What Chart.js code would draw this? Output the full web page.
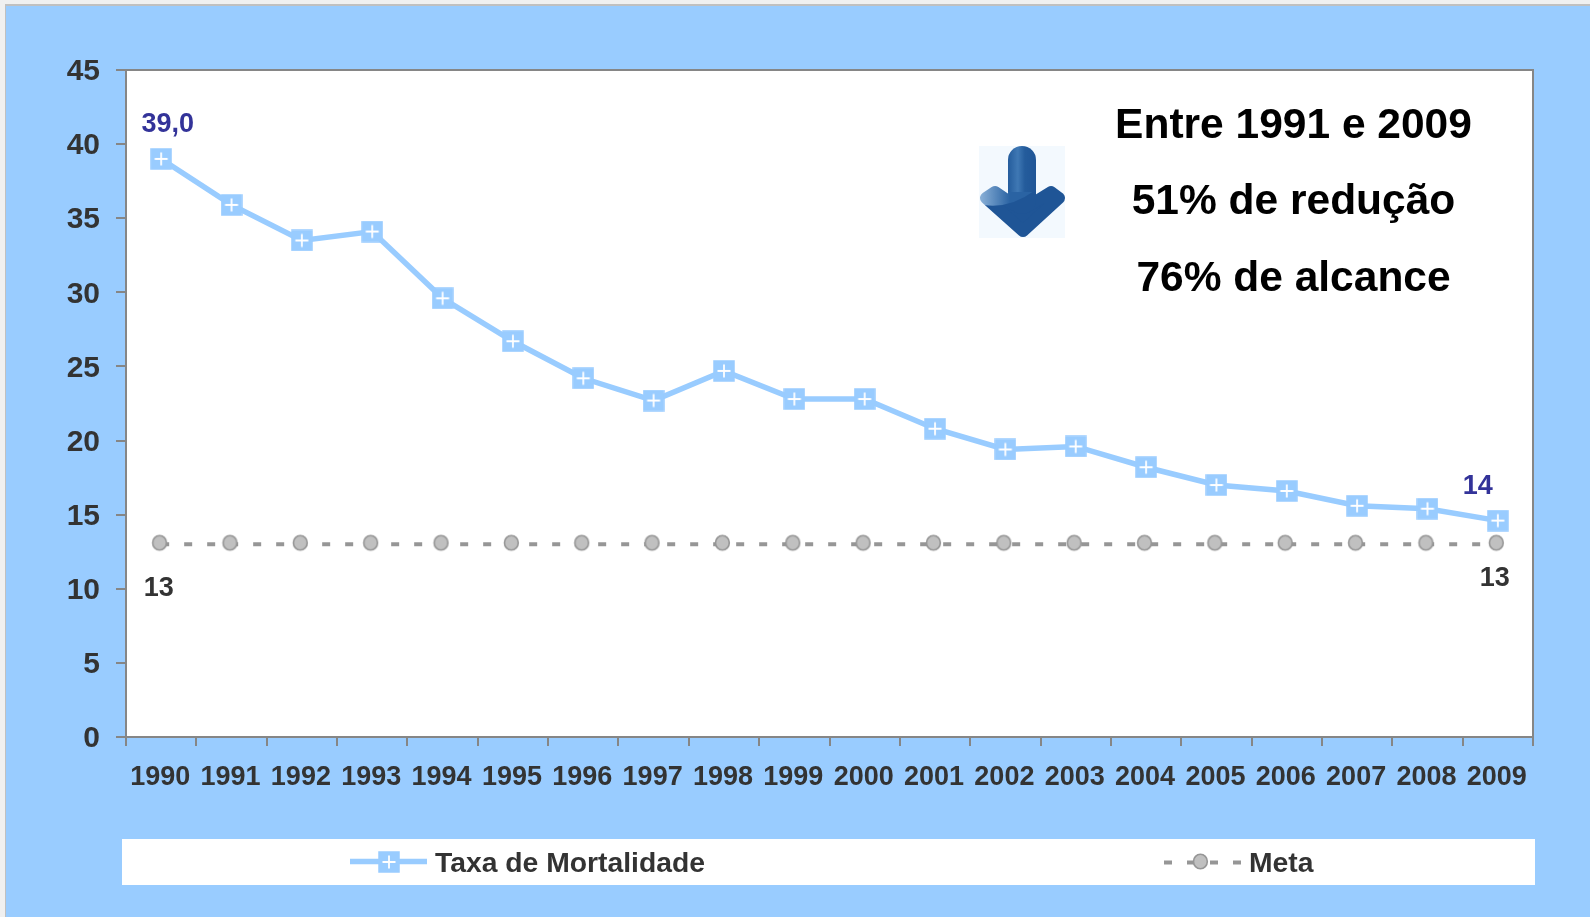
<!DOCTYPE html>
<html>
<head>
<meta charset="utf-8">
<style>html,body{margin:0;padding:0;background:#f0f0f0}canvas{display:block}</style>
<script src="https://cdn.jsdelivr.net/npm/chart.js@4/dist/chart.umd.min.js"></script>
</head>
<body>
<canvas id="c" width="1590" height="917"></canvas>
<script>
const years = ['1990','1991','1992','1993','1994','1995','1996','1997','1998','1999','2000','2001','2002','2003','2004','2005','2006','2007','2008','2009'];
const taxaMortalidade = [39.0,35.9,33.5,34.1,29.6,26.7,24.2,22.7,24.7,22.8,22.8,20.8,19.4,19.6,18.2,17.0,16.6,15.6,15.4,14.6];
const meta = [13,13,13,13,13,13,13,13,13,13,13,13,13,13,13,13,13,13,13,13];
const taxaFirstLabel = '39,0';
const taxaLastLabel = '14';
const metaLabel = '13';
const annotationLines = ['Entre 1991 e 2009','51% de redução','76% de alcance'];

const FONT = '"Liberation Sans", Arial, sans-serif';

function squareMarker(){
  const c=document.createElement('canvas');c.width=22;c.height=22;
  const x=c.getContext('2d');
  x.fillStyle='#99CCFF';x.fillRect(0.25,0.25,21.5,21.5);
  x.strokeStyle='#fff';x.lineWidth=1.8;
  x.beginPath();x.moveTo(4.5,11);x.lineTo(17.5,11);x.moveTo(11,4.5);x.lineTo(11,17.5);x.stroke();
  return c;
}
function circleMarker(){
  const c=document.createElement('canvas');c.width=24;c.height=24;
  const x=c.getContext('2d');
  x.fillStyle='#C0C0C0';x.strokeStyle='#969696';x.lineWidth=1.6;
  x.beginPath();x.ellipse(10.4,10.5,6.9,7.2,0,0,Math.PI*2);x.fill();x.stroke();
  return c;
}
const sq=squareMarker(), ci=circleMarker();

function arrowImage(){
  const c=document.createElement('canvas');c.width=86;c.height=92;
  const x=c.getContext('2d');
  x.fillStyle='#F3F9FE';x.fillRect(0,0,86,92);
  const o=document.createElement('canvas');o.width=86;o.height=92;
  const g=o.getContext('2d');
  g.translate(-979,-146);
  g.fillStyle=g.strokeStyle='#1F5596';
  g.lineJoin='round';g.lineCap='round';
  g.lineWidth=12;
  g.beginPath();
  g.moveTo(1014,205);g.lineTo(995,192);g.lineTo(986,198);g.lineTo(1023,231);
  g.lineTo(1059,198);g.lineTo(1051,192);g.lineTo(1030,205);g.closePath();
  g.fill();g.stroke();
  g.lineWidth=28;
  g.beginPath();g.moveTo(1022,160);g.lineTo(1022,200);g.stroke();
  g.globalCompositeOperation='source-atop';
  const lg=g.createLinearGradient(979,0,1010,0);
  lg.addColorStop(0,'#8DB3D9');lg.addColorStop(1,'#2A63A3');
  g.fillStyle=lg;
  g.beginPath();g.moveTo(975,203);g.quadraticCurveTo(1005,212,1034,191);g.lineTo(1040,140);g.lineTo(975,140);g.closePath();g.fill();
  const bg=g.createLinearGradient(1008,0,1036,0);
  bg.addColorStop(0,'#245C9C');bg.addColorStop(0.35,'#3F78B4');bg.addColorStop(0.6,'#245C9C');bg.addColorStop(1,'#1F5596');
  g.fillStyle=bg;g.fillRect(1008,146,28,46);
  x.drawImage(o,0,0);
  return c;
}
const arrow=arrowImage();

const decorPlugin={
  id:'decor',
  beforeDraw(chart){
    const {ctx,chartArea:a,width,height}=chart;
    ctx.save();
    ctx.fillStyle='#F0F0F0';ctx.fillRect(0,0,width,height);
    ctx.fillStyle='#C0C0C0';ctx.fillRect(5,4,width-5,height-4);
    ctx.fillStyle='#99CCFF';ctx.fillRect(6,6,width-6,height-6);
    ctx.fillStyle='#fff';ctx.fillRect(a.left,a.top,a.right-a.left,a.bottom-a.top);
    ctx.fillRect(122,839,1413,46);
    ctx.restore();
  },
  afterDatasetsDraw(chart){
    const {ctx,chartArea:a}=chart;
    ctx.save();
    // plot frame
    ctx.strokeStyle='#868686';ctx.lineWidth=2;
    ctx.beginPath();ctx.moveTo(a.left,a.top);ctx.lineTo(a.right,a.top);ctx.lineTo(a.right,a.bottom);ctx.stroke();

    // value labels attached to the points
    const m0=chart.getDatasetMeta(0).data, m1=chart.getDatasetMeta(1).data;
    const last=years.length-1;
    ctx.textAlign='center';ctx.textBaseline='middle';
    ctx.font='bold 27px '+FONT;ctx.fillStyle='#333399';
    ctx.fillText(taxaFirstLabel,m0[0].x+6.5,m0[0].y-34);
    ctx.fillText(taxaLastLabel,m0[last].x-20,m0[last].y-34);
    ctx.font='bold 27px '+FONT;ctx.fillStyle='#333333';
    ctx.fillText(metaLabel,m1[0].x-2.5,m1[0].y+44);
    ctx.fillText(metaLabel,m1[last].x-3,m1[last].y+34);

    // annotation
    ctx.font='bold 42.5px '+FONT;ctx.fillStyle='#000';
    const ys=[126,202,279];
    annotationLines.forEach((t,i)=>ctx.fillText(t,1293.5,ys[i]));
    ctx.drawImage(arrow,979,146);

    // legend
    const ds=chart.data.datasets;
    ctx.strokeStyle='#99CCFF';ctx.lineWidth=5.5;
    ctx.beginPath();ctx.moveTo(350,861.5);ctx.lineTo(427,861.5);ctx.stroke();
    ctx.drawImage(sq,378,851);
    ctx.strokeStyle='#969696';ctx.lineWidth=4;ctx.setLineDash([8,15]);
    ctx.beginPath();ctx.moveTo(1164,862.5);ctx.lineTo(1241,862.5);ctx.stroke();
    ctx.setLineDash([]);
    ctx.drawImage(ci,1190,851);
    ctx.font='bold 28.3px '+FONT;ctx.fillStyle='#333333';ctx.textAlign='left';
    ctx.fillText(ds[0].label,435,864);
    ctx.fillText(ds[1].label,1249,864);
    ctx.restore();
  }
};

new Chart(document.getElementById('c'),{
  type:'line',
  data:{
    labels:years,
    datasets:[
      {label:'Taxa de Mortalidade',data:taxaMortalidade,borderColor:'#99CCFF',backgroundColor:'#99CCFF',borderWidth:5.5,
       pointStyle:sq,pointRadius:10,tension:0,fill:false,clip:false},
      {label:'Meta',data:meta,borderColor:'#969696',backgroundColor:'#C0C0C0',borderWidth:4,borderDash:[8,15],
       pointStyle:ci,pointRadius:10,tension:0,fill:false,clip:false}
    ]
  },
  options:{
    responsive:false,animation:false,
    events:[],
    layout:{padding:{left:0,top:70,right:57,bottom:120}},
    plugins:{legend:{display:false},title:{display:false},tooltip:{enabled:false}},
    scales:{
      x:{
        offset:true,
        afterFit(s){s.height=60;},
        grid:{offset:true,drawOnChartArea:false,drawTicks:true,tickLength:9,color:'#868686',lineWidth:2},
        border:{color:'#868686',width:2},
        ticks:{autoSkip:false,maxRotation:0,minRotation:0,padding:15,labelOffset:-1,color:'#333333',font:{family:FONT,size:27,weight:'bold'}}
      },
      y:{
        min:0,max:45,
        afterFit(s){s.width=126;},
        grid:{drawOnChartArea:false,drawTicks:true,tickLength:10,color:'#868686',lineWidth:2},
        border:{color:'#868686',width:2},
        ticks:{stepSize:5,padding:16,labelOffset:2,color:'#333333',font:{family:FONT,size:30,weight:'bold'}}
      }
    }
  },
  plugins:[decorPlugin]
});
</script>
</body>
</html>
